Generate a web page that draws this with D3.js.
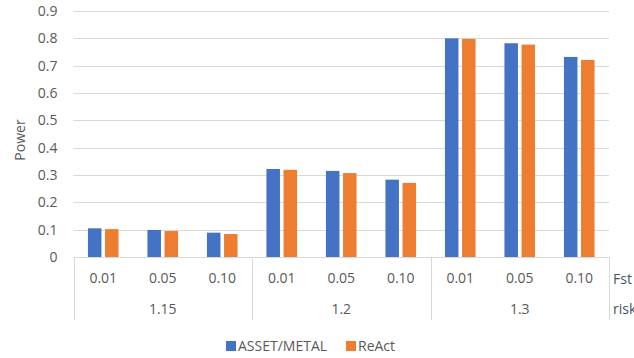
<!DOCTYPE html>
<html><head><meta charset="utf-8">
<script src="https://cdn.jsdelivr.net/npm/d3@7"></script>
<style>body{margin:0;background:#fff}svg{display:block}text{font-family:"Open Sans",sans-serif;fill:#595959}</style>
</head><body><svg id="c" width="634" height="358"></svg>
<script>
const risks = ["1.15","1.2","1.3"];
const fsts = ["0.01","0.05","0.10"];
const seriesNames = ["ASSET/METAL","ReAct"];
const assetMetal = [0.105,0.099,0.089, 0.322,0.315,0.283, 0.800,0.782,0.732];
const react      = [0.102,0.095,0.084, 0.319,0.307,0.271, 0.798,0.777,0.721];
const yTicks = [0,0.1,0.2,0.3,0.4,0.5,0.6,0.7,0.8,0.9];
const colors = ["#4472C4","#ED7D31"];

const svg = d3.select("#c");
const L=73.5, R=609, T=11, B=257;
const cats = [];
risks.forEach(r=>fsts.forEach(f=>cats.push(r+"|"+f)));
const x = d3.scaleBand().domain(cats).range([L,R]).paddingInner(0).paddingOuter(0);
const xs = d3.scaleBand().domain(seriesNames).range([0,x.bandwidth()]).paddingInner(0.21).paddingOuter(0.845);
const y = d3.scaleLinear().domain([0,0.9]).range([B,T]);

// gridlines
svg.append("g").selectAll("line").data(yTicks.filter(d=>d>0)).join("line")
  .attr("x1",L).attr("x2",R).attr("y1",d=>Math.round(y(d))+0.5).attr("y2",d=>Math.round(y(d))+0.5)
  .attr("stroke","#D9D9D9").attr("stroke-width",1);

// y axis labels
const ya = svg.append("g").attr("transform",`translate(${L},0)`)
  .call(d3.axisLeft(y).tickValues(yTicks).tickFormat(d=>d===0?"0":d3.format(".1f")(d)).tickSize(0).tickPadding(16));
ya.select(".domain").remove();
ya.selectAll("text").style("font-size","14px").attr("fill","#595959").style("font-family","'Open Sans',sans-serif");

// bars
const data = cats.map((c,i)=>({c, vals:[assetMetal[i],react[i]]}));
const g = svg.append("g").selectAll("g").data(data).join("g").attr("transform",d=>`translate(${x(d.c)},0)`);
g.selectAll("rect").data(d=>d.vals.map((v,k)=>({v,k}))).join("rect")
  .attr("x",d=>xs(seriesNames[d.k])).attr("width",xs.bandwidth())
  .attr("y",d=>y(d.v)).attr("height",d=>B-y(d.v)).attr("fill",d=>colors[d.k]);

// x axis line and separators
svg.append("line").attr("x1",L).attr("x2",R).attr("y1",B+0.5).attr("y2",B+0.5).attr("stroke","#D9D9D9");
const seps = [0,3,6,9].map(i=> i<9 ? x(cats[i]) : R);
svg.append("g").selectAll("line").data(seps).join("line")
  .attr("x1",d=>Math.round(d)+0.5).attr("x2",d=>Math.round(d)+0.5).attr("y1",B).attr("y2",320)
  .attr("stroke","#D9D9D9");

// fst labels
svg.append("g").selectAll("text").data(cats).join("text")
  .attr("x",d=>x(d)+x.bandwidth()/2).attr("y",283).attr("text-anchor","middle")
  .style("font-size","14px").text(d=>d.split("|")[1]);
// risk labels
svg.append("g").selectAll("text").data(risks).join("text")
  .attr("x",(d,i)=>(x(cats[i*3])+ (i*3+3<9?x(cats[i*3+3]):R))/2).attr("y",314).attr("text-anchor","middle")
  .style("font-size","14px").text(d=>d);
svg.append("text").attr("x",613).attr("y",284).style("font-size","14px").style("fill","#44546A").text("Fst");
svg.append("text").attr("x",613).attr("y",314).style("font-size","14px").style("fill","#44546A").text("risk");

// y title
svg.append("text").attr("transform","translate(25,140) rotate(-90)").attr("text-anchor","middle")
  .style("font-size","14px").text("Power");

// legend
const leg = svg.append("g");
const lx=[226,346];
seriesNames.forEach((s,i)=>{
  leg.append("rect").attr("x",lx[i]).attr("y",341).attr("width",10).attr("height",10).attr("fill",colors[i]);
  leg.append("text").attr("x",lx[i]+12).attr("y",351).style("font-size","14px").text(s);
});
</script></body></html>
